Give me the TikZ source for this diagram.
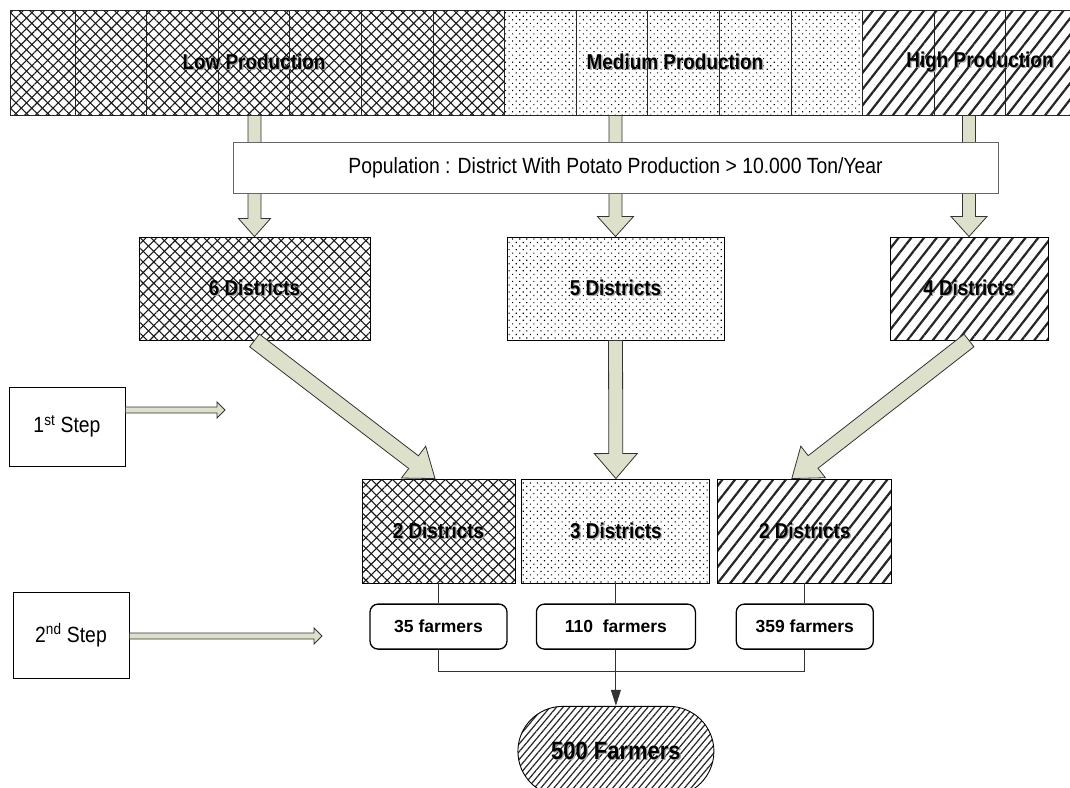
\documentclass[tikz,border=0pt]{standalone}
\usepackage{fontspec}
\setmainfont{Liberation Sans}
\newfontfamily\narrowsans[FakeStretch=0.88]{Liberation Sans}
\usetikzlibrary{calc,positioning,patterns.meta,arrows.meta}
\definecolor{arrowfill}{RGB}{221,224,203}

% broad outlined arrow: from, to, half stem, half head, head length
\newcommand{\fatarrow}[5]{%
  \coordinate (fa-s) at (#1);
  \coordinate (fa-e) at (#2);
  \coordinate (fa-h) at ($(fa-e)!#5!(fa-s)$);
  \filldraw[fat]
    ($(fa-s)!#3!90:(fa-e)$) -- ($(fa-h)!#3!90:(fa-e)$)
    -- ($(fa-h)!#4!90:(fa-e)$) -- (fa-e)
    -- ($(fa-h)!#4!-90:(fa-e)$) -- ($(fa-h)!#3!-90:(fa-e)$)
    -- ($(fa-s)!#3!-90:(fa-e)$) -- cycle;
}
% grey drop shadow behind bold labels
\newcommand{\shadowed}[1]{\rlap{\kern1.3pt\raisebox{-1.3pt}{\color{black!35}#1}}#1}

\begin{document}
\begin{tikzpicture}[
  x=1pt,y=-1pt,
  boldlabel/.style={font=\narrowsans\bfseries\fontsize{21.5}{24}\selectfont},
  cell/.style={draw=black!85,line width=0.8pt,minimum height=105pt,inner sep=0pt},
  box/.style={draw,line width=0.9pt,inner sep=0pt,minimum height=103pt,boldlabel},
  lowfill/.style={
    pattern={Lines[angle=45,distance=7.5pt,line width=1.1pt]},pattern color=black!90,
    postaction={pattern={Lines[angle=-45,distance=7.5pt,line width=1.1pt]},pattern color=black!90}},
  medfill/.style={pattern={Dots[angle=45,distance=5pt,radius=0.8pt]},pattern color=black},
  highfill/.style={pattern={Lines[angle=52,distance=10pt,line width=2.2pt]},pattern color=black!85},
  finefill/.style={pattern={Lines[angle=50,distance=5pt,line width=1.2pt]},pattern color=black!85},
  stepbox/.style={draw,line width=0.9pt,minimum width=116pt,font=\narrowsans\fontsize{22}{26}\selectfont},
  farmbox/.style={draw,line width=1.3pt,rounded corners=8pt,minimum width=137pt,minimum height=45pt,
    inner sep=0pt,text depth=-6pt,font=\bfseries\fontsize{17.5}{20}\selectfont},
  fat/.style={draw=black!80,line width=0.8pt,fill=arrowfill},
  link/.style={draw=black!80,line width=0.9pt},
  ]
  \useasboundingbox (0,0) rectangle (1070,787);
  \clip (0,0) rectangle (1070,787);
  \fill[white] (0,0) rectangle (1070,787);

  % production bands
  \foreach \k in {1,...,7} {
    \pgfmathsetmacro\xl{max(10,71.6*\k-68.2)}
    \pgfmathsetmacro\xr{71.6*\k+3.4}
    \node[cell,lowfill,minimum width=\xr-\xl] (c\k) at ({(\xl+\xr)/2},62.5) {};
  }
  \foreach \k in {8,...,12}
    \node[cell,medfill,minimum width=71.6] (c\k) at ({71.6*\k-32.4},62.5) {};
  \foreach \k in {13,...,15}
    \node[cell,highfill,minimum width=71.6] (c\k) at ({71.6*\k-32.4},62.5) {};

  \node[boldlabel] (lowlbl) at (c4) {\shadowed{Low Production}};
  \node[boldlabel] (medlbl) at ([xshift=-8.6pt]c10) {\shadowed{Medium Production}};
  \node[boldlabel] (highlbl) at ([xshift=10pt]c14) {\shadowed{High Production}};

  \node[box,lowfill,minimum width=231pt] (d6) at (254.5,288.5) {\shadowed{6 Districts}};
  \node[box,medfill,minimum width=217pt] (d5) at (615.5,288.5) {\shadowed{5 Districts}};
  \node[box,highfill,minimum width=158pt] (d4) at (969,288.5) {\shadowed{4 Districts}};

  \fatarrow{d6.north |- c4.south}{d6.north}{6.5pt}{16pt}{18pt}
  \fatarrow{d5.north |- c9.south}{d5.north}{6.5pt}{18pt}{20pt}
  \fatarrow{d4.north |- c14.south}{d4.north}{6.5pt}{18pt}{20pt}

  \node[draw=black!60,fill=white,line width=0.9pt,minimum width=765pt,minimum height=51pt,
    font=\narrowsans\fontsize{22}{26}\selectfont] (pop) at (615.5,167.5)
    {Population : District With Potato Production > 10.000 Ton/Year};

  % sampled districts
  \node[box,lowfill,minimum width=153pt,minimum height=104pt] (l2) at (438.5,531) {\shadowed{2 Districts}};
  \node[box,medfill,minimum width=188pt,minimum height=104pt,right=6pt of l2] (m3) {\shadowed{3 Districts}};
  \node[box,highfill,minimum width=174pt,minimum height=104pt,right=7pt of m3] (h2) {\shadowed{2 Districts}};

  \fatarrow{d6.south}{[xshift=-3.5pt]l2.north}{8pt}{20pt}{27pt}
  \fatarrow{d5.south}{m3.north}{7pt}{21.5pt}{25pt}
  \fatarrow{d4.south}{[xshift=-13pt]h2.north}{8pt}{20pt}{27pt}

  \node[farmbox,below=20pt of l2] (f35) {35 farmers};
  \node[farmbox,minimum width=159pt,below=20pt of m3] (f110) {110~ farmers};
  \node[farmbox,below=20pt of h2] (f359) {359 farmers};

  \draw[link] (l2) -- (f35);
  \draw[link] (m3) -- (f110);
  \draw[link] (h2) -- (f359);

  \node[draw,line width=0.9pt,finefill,minimum width=196pt,minimum height=90pt,rounded corners=45pt,
    font=\narrowsans\bfseries\fontsize{25}{28}\selectfont,below=56pt of f110] (total) {\shadowed{500 Farmers}};

  \coordinate (join) at ($(f110.south)+(0,22)$);
  \draw[link] (f35.south) |- (join) -| (f359.south);
  \draw[link,-{Triangle[length=16pt,width=10pt]}] (f110.south) -- (total.north);

  % steps
  \node[stepbox,minimum height=79pt] (s1) at (67,426.5) {1\textsuperscript{st} Step};
  \node[stepbox,minimum height=86pt] (s2) at (71,635) {2\textsuperscript{nd} Step};
  \coordinate (s1end) at (225,410);
  \coordinate (s2end) at (322,636);
  \fatarrow{s1.east |- s1end}{s1end}{3pt}{8pt}{8pt}
  \fatarrow{s2.east |- s2end}{s2end}{3pt}{8pt}{8pt}
\end{tikzpicture}
\end{document}
